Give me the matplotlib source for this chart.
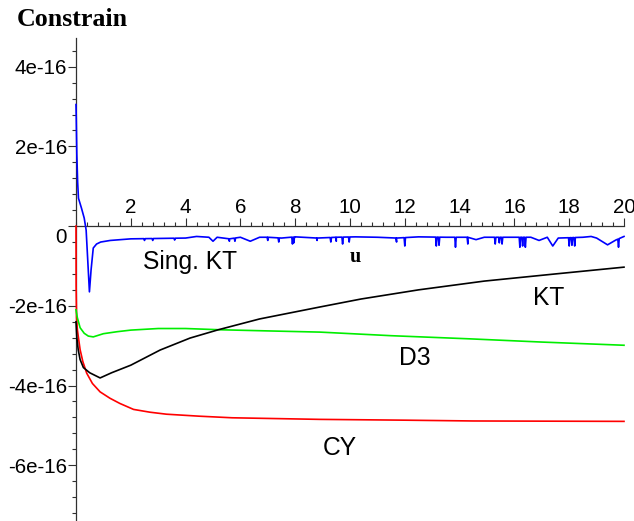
import numpy as np
import matplotlib
matplotlib.use("Agg")
import matplotlib.pyplot as plt
from matplotlib.ticker import FixedLocator, FixedFormatter, MultipleLocator
from matplotlib.transforms import ScaledTranslation

plt.rcParams['axes.unicode_minus'] = False
plt.rcParams['font.family'] = ['Liberation Sans', 'DejaVu Sans']

# all y values below are in units of 1e-16

# CY (red)
cy_x = [0, 0.005, 0.02, 0.05, 0.085, 0.15, 0.25, 0.39, 0.6, 0.88, 1.24, 1.6, 2.1, 2.7,
        3.3, 4.5, 5.7, 8.9, 12.0, 14.5, 20]
cy_y = [0, -1.5, -2.3, -2.6, -2.78, -3.1, -3.4, -3.69, -3.95, -4.16, -4.32, -4.45, -4.6,
        -4.67, -4.72, -4.77, -4.81, -4.85, -4.87, -4.89, -4.9]

# KT (black)
kt_x = [0, 0.03, 0.08, 0.15, 0.27, 0.5, 0.88, 1.3, 2.0, 3.07, 4.16, 5.2, 6.7, 8.9,
        10.4, 12.5, 14.9, 17.5, 20]
kt_y = [-2.4, -2.8, -3.1, -3.35, -3.55, -3.68, -3.81, -3.68, -3.49, -3.11, -2.81,
        -2.6, -2.33, -2.03, -1.83, -1.6, -1.38, -1.2, -1.03]

# D3 (green)
d3_x = [0, 0.05, 0.15, 0.3, 0.45, 0.63, 1.0, 1.5, 2.0, 3.0, 4.0, 5.2, 7.0, 8.9,
        11.5, 14.4, 17.0, 20]
d3_y = [-2.1, -2.3, -2.55, -2.69, -2.76, -2.78, -2.7, -2.65, -2.61, -2.57, -2.57,
        -2.6, -2.63, -2.66, -2.75, -2.83, -2.91, -2.99]

# Sing. KT (blue): baseline plus narrow downward spikes
sing_x = [0, 0.01, 0.03, 0.06, 0.09, 0.2, 0.3, 0.37, 0.43, 0.49, 0.55, 0.63, 0.75,
          0.9, 1.25, 2.0, 3.0, 4.0, 4.4, 4.85, 5.0, 5.15, 5.6, 6.0, 6.36, 6.7, 7.0,
          7.5, 8.0, 8.8, 9.5, 10.2, 11.0, 11.7, 12.5, 13.5, 14.3, 14.6, 14.9, 15.5,
          16.6, 16.9, 17.2, 17.4, 17.6, 18.5, 18.8, 19.0, 19.4, 19.7, 20]
sing_y = [3.05, 2.7, 1.8, 1.1, 0.7, 0.45, 0.2, -0.1, -0.9, -1.65, -1.1, -0.55, -0.45,
          -0.4, -0.36, -0.32, -0.31, -0.3, -0.26, -0.28, -0.38, -0.28, -0.32, -0.28,
          -0.38, -0.28, -0.28, -0.3, -0.27, -0.3, -0.28, -0.27, -0.28, -0.3, -0.27,
          -0.28, -0.28, -0.34, -0.28, -0.28, -0.28, -0.36, -0.28, -0.5, -0.3, -0.28,
          -0.26, -0.3, -0.47, -0.35, -0.26]
spike_x = [2.5, 2.8, 3.6, 5.6, 5.8, 7.0, 7.4, 7.9, 7.95, 8.8, 9.3, 9.5, 9.73, 9.97,
           11.7, 12.0, 13.15, 13.25, 13.85, 14.3, 15.3, 15.45, 15.55, 16.2, 16.3,
           16.4, 18.0, 18.1, 18.2, 19.8]
spike_y = [-0.36, -0.36, -0.35, -0.38, -0.38, -0.36, -0.4, -0.45, -0.42, -0.36, -0.4,
           -0.38, -0.45, -0.4, -0.4, -0.5, -0.5, -0.48, -0.53, -0.45, -0.45, -0.42,
           -0.45, -0.53, -0.5, -0.53, -0.5, -0.48, -0.5, -0.53]

y_ticks = [4, 2, 0, -2, -4, -6]
y_labels = ['4e-16', '2e-16', '0', '-2e-16', '-4e-16', '-6e-16']
x_ticks = [2, 4, 6, 8, 10, 12, 14, 16, 18, 20]

# merge spikes into the blue curve
pts = list(zip(sing_x, sing_y))
for sx, sy in zip(spike_x, spike_y):
    for dx in (-0.025, 0.025):
        pts.append((sx + dx, np.interp(sx + dx, sing_x, sing_y)))
    pts.append((sx, sy))
pts.sort()
blue_x = [p[0] for p in pts]
blue_y = [p[1] for p in pts]

W, H = 634, 521
fig = plt.figure(figsize=(W / 100, H / 100), dpi=100)
ax = fig.add_axes([76 / W, 0, (624 - 76) / W, (521 - 38) / H])

lw = 1.2
ax.plot(cy_x, cy_y, color='#ff0000', lw=lw, clip_on=False)
ax.plot(d3_x, d3_y, color='#00ee00', lw=lw, clip_on=False)
ax.plot(kt_x, kt_y, color='black', lw=lw, clip_on=False)
ax.plot(blue_x, blue_y, color='#0000ff', lw=lw, clip_on=False)

ax.set_xlim(0, 20)
ax.set_ylim(-7.40, 4.72)

axis_col = '#303030'
for s in ['bottom', 'right']:
    ax.spines[s].set_visible(False)
ax.spines['top'].set_position(('data', 0))
for s in ['top', 'left']:
    ax.spines[s].set_color(axis_col)
    ax.spines[s].set_linewidth(0.9)
    ax.spines[s].set_zorder(0.5)

ax.xaxis.tick_top()
ax.xaxis.set_major_locator(FixedLocator(x_ticks))
ax.xaxis.set_minor_locator(MultipleLocator(0.4))
ax.yaxis.set_major_locator(FixedLocator(y_ticks))
ax.yaxis.set_major_formatter(FixedFormatter(y_labels))
ax.yaxis.set_minor_locator(MultipleLocator(0.4))

ax.tick_params(axis='both', which='major', direction='out', length=5.5, width=0.8,
               color=axis_col, labelsize=14.8, pad=1)
ax.tick_params(axis='both', which='minor', direction='out', length=3, width=0.8,
               color=axis_col)

# shift the "0" label below the x axis
for lab in ax.get_yticklabels():
    if lab.get_text() == '0':
        lab.set_transform(lab.get_transform() +
                          ScaledTranslation(0, -7 / 72, fig.dpi_scale_trans))

fs = 17.7
ax.text(4.17, -0.90, 'Sing. KT', fontsize=fs, ha='center', va='center')
ax.text(17.26, -1.81, 'KT', fontsize=fs, ha='center', va='center')
ax.text(12.36, -3.31, 'D3', fontsize=fs, ha='center', va='center')
ax.text(9.62, -5.57, 'CY', fontsize=fs, ha='center', va='center')
ax.text(10.2, -0.78, 'u', fontsize=14.5, ha='center', va='center',
        family='Liberation Serif', fontweight='bold')
fig.text(17 / W, 1 - 20 / H, 'Constrain', fontsize=18.7, ha='left', va='center',
         family='Liberation Serif', fontweight='bold')

fig.savefig('out.png', dpi=100)
